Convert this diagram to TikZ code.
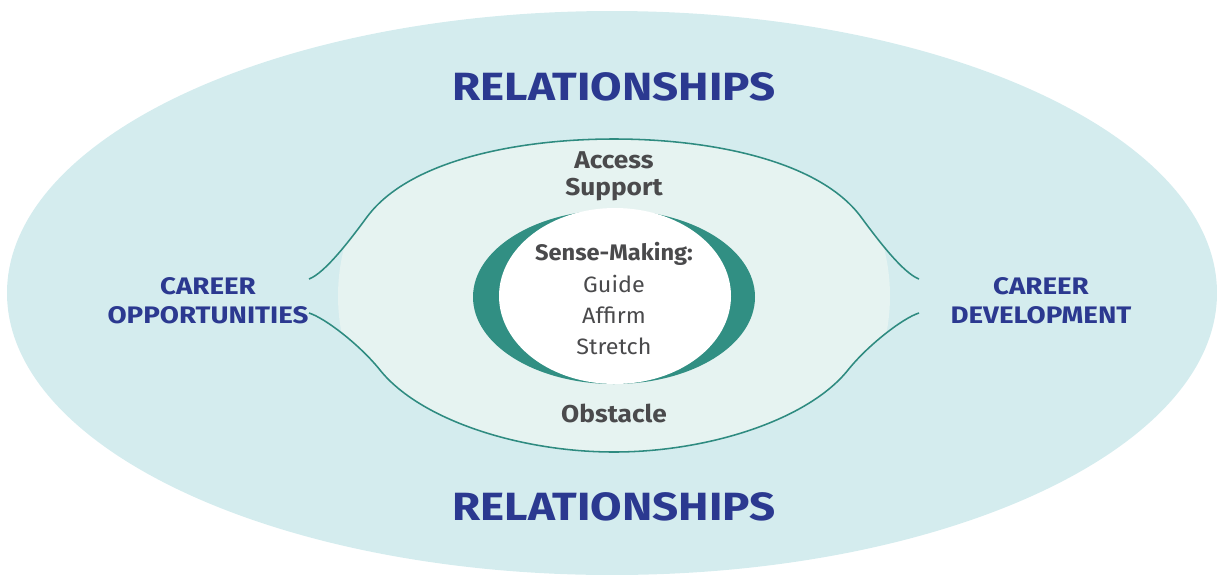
\documentclass[tikz,border=0pt]{standalone}
\usepackage{fontspec}
\setmainfont{Fira Sans}
\newfontfamily\capsfont[FakeStretch=1.16]{Fira Sans}
\newfontfamily\eyefont[FakeStretch=1.08]{Fira Sans}
\newfontfamily\corefont[FakeStretch=1.05]{Fira Sans}
\usepackage{tikz}

\definecolor{outerfill}{HTML}{D4ECEE}
\definecolor{innerfill}{HTML}{E6F3F1}
\definecolor{tealline}{HTML}{2E8B80}
\definecolor{tealring}{HTML}{318F83}
\definecolor{navy}{HTML}{2B3990}
\definecolor{darkgray}{HTML}{4A4A4C}

\begin{document}
\begin{tikzpicture}[x=0.025cm, y=-0.025cm,
        bigtitle/.style={text=navy, font=\capsfont\fontsize{28}{30}\selectfont\bfseries},
        sidelabel/.style={text=navy, font=\capsfont\fontsize{17}{20.5}\selectfont\bfseries, align=center},
        midlabel/.style={text=darkgray, font=\eyefont\fontsize{17.3}{19.2}\selectfont\bfseries, align=center},
        corehead/.style={text=darkgray, font=\corefont\fontsize{16}{20}\selectfont\bfseries},
        coretext/.style={text=darkgray, font=\corefont\fontsize{15.8}{22}\selectfont, align=center},
        eyeline/.style={tealline, line width=1.1pt}]
        \useasboundingbox (0,0) rectangle (1217,574);

        % Outer field
        \fill[outerfill] (612,293) ellipse [x radius=605, y radius=282];

        % Inner field, inside the eye
        \begin{scope}
            \clip (614,296) ellipse [x radius=276, y radius=230];
            \fill[innerfill] (309,279) .. controls (325,273) and (350,240) .. (367,217)
                .. controls (409.5,159.5) and (520,139) .. (614,139)
                .. controls (708,139) and (818.5,159.5) .. (861,217)
                .. controls (878,240) and (903,273) .. (919,279)
                -- (919,313) .. controls (903,318) and (868,345) .. (848,370)
                .. controls (808,420) and (708,452) .. (614,452)
                .. controls (520,452) and (420,420) .. (380,370)
                .. controls (360,345) and (325,318) .. (309,313) -- cycle;
        \end{scope}

        % Eye outline
        \draw[eyeline] (309,279) .. controls (325,273) and (350,240) .. (367,217)
            .. controls (409.5,159.5) and (520,139) .. (614,139)
            .. controls (708,139) and (818.5,159.5) .. (861,217)
            .. controls (878,240) and (903,273) .. (919,279);
        \draw[eyeline] (309,313) .. controls (325,318) and (360,345) .. (380,370)
            .. controls (420,420) and (520,452) .. (614,452)
            .. controls (708,452) and (808,420) .. (848,370)
            .. controls (868,345) and (903,318) .. (919,313);

        % Core
        \fill[tealring] (614,297) ellipse [x radius=141, y radius=87];
        \fill[white] (615,296) ellipse [x radius=116, y radius=88];

        % Labels
        \node[bigtitle] (reltop) at (614,87) {RELATIONSHIPS};
        \node[bigtitle] (relbot) at (614,507) {RELATIONSHIPS};
        \node[sidelabel] (opps) at (208,301) {CAREER\\OPPORTUNITIES};
        \node[sidelabel] (devel) at (1041,301) {CAREER\\DEVELOPMENT};
        \node[midlabel] (access) at (614,176) {Access\\Support};
        \node[midlabel] (obst) at (614,413) {Obstacle};
        \node[corehead] (sense) at (614,254) {Sense-Making:};
        \node[coretext] (steps) at (614,315) {Guide\\Affirm\\Stretch};
    \end{tikzpicture}
\end{document}
